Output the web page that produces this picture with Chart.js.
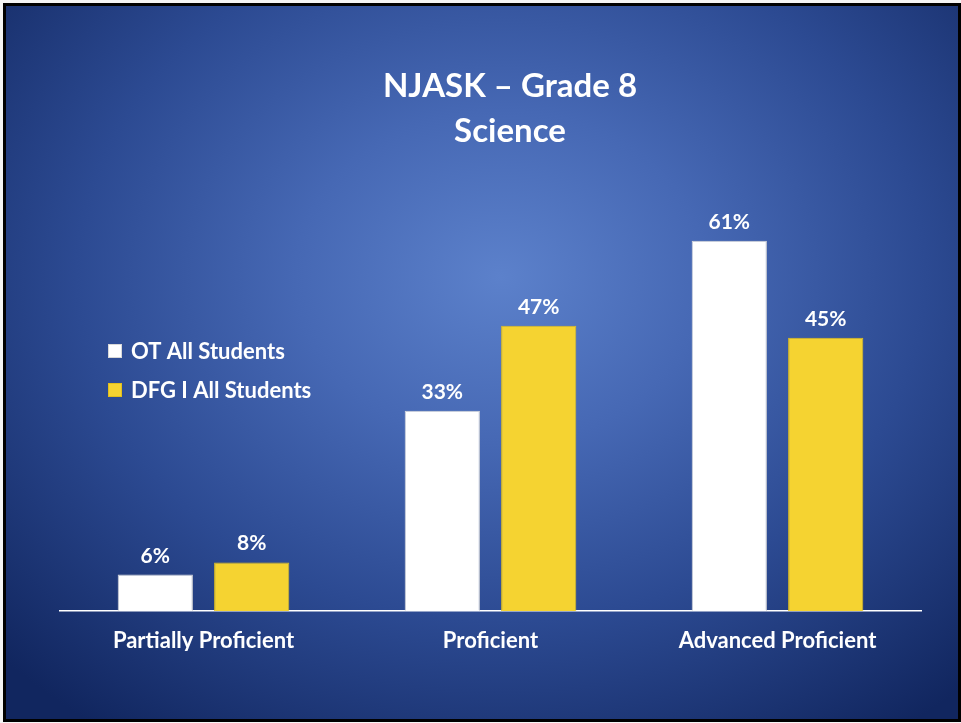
<!DOCTYPE html>
<html>
<head>
<meta charset="utf-8">
<script src="https://cdn.jsdelivr.net/npm/chart.js@4"></script>
<style>
html,body{margin:0;padding:0;width:961px;height:723px;background:#f4f4f4;overflow:hidden;}
#frame{position:absolute;left:3px;top:3px;width:952px;height:713px;border:3px solid #000;
background:radial-gradient(ellipse 72% 78% at 52% 38%, #5c81cb 0%, #4668b4 30%, #2c4a92 62%, #11265f 100%);}
#c{position:absolute;left:0;top:0;}
</style>
</head>
<body>
<div id="frame"></div>
<canvas id="c" width="961" height="723"></canvas>
<script>
const categories = ["Partially Proficient", "Proficient", "Advanced Proficient"];
const otAll = [6, 33, 61];
const dfgAll = [8, 47, 45];
const seriesNames = ["OT All Students", "DFG I All Students"];
const titleLines = ["NJASK \u2013 Grade 8", "Science"];
const FONT = "Lato, 'Open Sans', sans-serif";

const decor = {
  id: 'decor',
  afterDatasetsDraw(chart) {
    const ctx = chart.ctx;
    ctx.save();
    ctx.fillStyle = '#ffffff';
    ctx.font = "bold 21px " + FONT;
    ctx.textAlign = 'center';
    ctx.textBaseline = 'alphabetic';
    chart.data.datasets.forEach((ds, i) => {
      chart.getDatasetMeta(i).data.forEach((bar, j) => {
        ctx.fillText(ds.data[j] + '%', bar.x, bar.y - 12);
      });
    });
    ctx.font = "bold 33px " + FONT;
    ctx.fillText(titleLines[0], 510, 97);
    ctx.fillText(titleLines[1], 510, 142);
    ctx.textAlign = 'left';
    ctx.font = "bold 22px " + FONT;
    const ly = [351, 390];
    chart.data.datasets.forEach((ds, i) => {
      ctx.fillStyle = ds.backgroundColor;
      ctx.fillRect(108, ly[i] - 7, 14, 14);
      ctx.strokeStyle = ds.borderColor;
      ctx.lineWidth = 1;
      ctx.strokeRect(108.5, ly[i] - 6.5, 13, 13);
      ctx.fillStyle = '#ffffff';
      ctx.textBaseline = 'middle';
      ctx.fillText(ds.label, 131, ly[i] + 1);
    });
    ctx.restore();
  }
};

new Chart(document.getElementById('c'), {
  type: 'bar',
  data: {
    labels: categories,
    datasets: [
      { label: seriesNames[0], data: otAll, backgroundColor: '#ffffff', borderColor: '#d8d8d8', borderWidth: 1 },
      { label: seriesNames[1], data: dfgAll, backgroundColor: '#f5d331', borderColor: '#e2bf1c', borderWidth: 1 }
    ]
  },
  options: {
    responsive: false,
    animation: false,
    events: [],
    layout: { padding: { left: 60, right: 40, top: 186, bottom: 72 } },
    datasets: { bar: { categoryPercentage: 0.672, barPercentage: 0.78 } },
    plugins: { legend: { display: false }, title: { display: false }, tooltip: { enabled: false } },
    scales: {
      x: {
        afterFit: (s) => { s.height = 40; },
        grid: { display: false, drawTicks: false },
        border: { display: true, color: '#ffffff', width: 1.5 },
        ticks: { color: '#ffffff', font: { family: FONT, weight: 'bold', size: 22 }, padding: 17 }
      },
      y: { display: false, min: 0, max: 70 }
    }
  },
  plugins: [decor]
});
</script>
</body>
</html>
